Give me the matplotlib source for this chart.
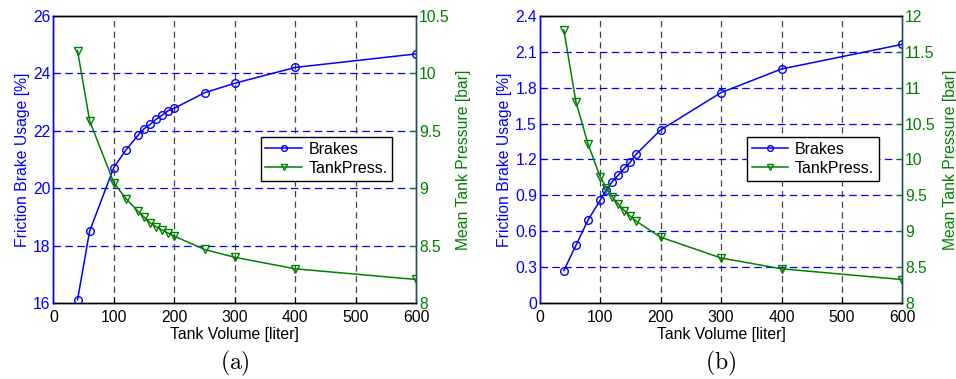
import matplotlib
matplotlib.use('Agg')
from matplotlib import pyplot as plt

plt.rcParams['font.family'] = ['Liberation Sans', 'DejaVu Sans']
plt.rcParams['mathtext.fontset'] = 'cm'

# panel (a)
vol_a = [40, 60, 100, 120, 140, 150, 160, 170, 180, 190, 200, 250, 300, 400, 600]
brakes_a = [16.12, 18.51, 20.72, 21.33, 21.84, 22.07, 22.22, 22.40, 22.54, 22.70, 22.78,
            23.32, 23.65, 24.20, 24.67]
press_a = [10.196, 9.587, 9.048, 8.91, 8.80, 8.75, 8.70, 8.665, 8.636, 8.61, 8.584,
           8.468, 8.40, 8.30, 8.207]

# panel (b)
vol_b = [40, 60, 80, 100, 110, 120, 130, 140, 150, 160, 200, 300, 400, 600]
brakes_b = [0.273, 0.484, 0.695, 0.859, 0.946, 1.015, 1.07, 1.126, 1.18, 1.246, 1.446,
            1.758, 1.955, 2.161]
press_b = [11.80, 10.80, 10.215, 9.76, 9.61, 9.48, 9.38, 9.29, 9.21, 9.14, 8.92,
           8.63, 8.48, 8.33]

x_ticks = [0, 100, 200, 300, 400, 500, 600]
yl_a = [16, 18, 20, 22, 24, 26]
yr_a = [8, 8.5, 9, 9.5, 10, 10.5]
yl_b = [0, 0.3, 0.6, 0.9, 1.2, 1.5, 1.8, 2.1, 2.4]
yr_b = [8, 8.5, 9, 9.5, 10, 10.5, 11, 11.5, 12]

BLUE = '#0000ff'
GREEN = '#008000'
FS = 11.3


def panel(left, vol, brakes, press, yl, yr, ylfmt, caption):
    ax = fig.add_axes([left, 0.1997, 0.3795, 0.759])
    ax2 = ax.twinx()
    ax.set_zorder(1)
    ax2.set_zorder(2)
    ax2.patch.set_visible(False)

    # dummy handle for the legend, brakes are drawn on the left scale
    l1, = ax2.plot([], [], '-o', color=BLUE, mfc='none', ms=5.5, lw=1.1, mew=1.0,
                   label='Brakes')
    ax.plot(vol, brakes, '-o', color=BLUE, mfc='none', ms=5.5, lw=1.1, mew=1.0, zorder=5)
    l2, = ax2.plot(vol, press, '-v', color=GREEN, mfc='none', ms=6, lw=1.1, mew=1.0,
                   label='TankPress.')

    ax.set_xlim(0, 600)
    ax.set_ylim(yl[0], yl[-1])
    ax2.set_ylim(yr[0], yr[-1])
    ax.set_xticks(x_ticks)
    ax.set_yticks(yl)
    ax.set_yticklabels([ylfmt(v) for v in yl])
    ax2.set_yticks(yr)
    ax2.set_yticklabels([('%g' % v) for v in yr])

    for v in x_ticks[1:-1]:
        ax.axvline(v, color='#444444', lw=0.9, dashes=(5, 3.5), zorder=0)
    for v in yl[1:-1]:
        ax.axhline(v, color=BLUE, lw=0.9, dashes=(6, 3.5), zorder=0)

    ax.tick_params(axis='x', direction='in', labelsize=FS, colors='black', length=4, pad=5)
    ax.tick_params(axis='y', direction='in', labelsize=FS, colors=BLUE, length=4, pad=2)
    ax2.tick_params(axis='y', direction='in', labelsize=FS, colors=GREEN, length=4, pad=2)
    ax.spines['left'].set_color(BLUE)
    ax2.spines['left'].set_color(BLUE)
    ax2.spines['right'].set_color('#1f4f58')
    ax.spines['right'].set_color('#1f4f58')
    for a in (ax, ax2):
        a.spines['top'].set_color('black')
        a.spines['bottom'].set_color('black')
        for s in a.spines.values():
            s.set_linewidth(1.0)

    ax.set_xlabel('Tank Volume [liter]', fontsize=FS, labelpad=1)
    ax.set_ylabel('Friction Brake Usage [%]', fontsize=FS, color=BLUE, labelpad=2)
    ax2.set_ylabel('Mean Tank Pressure [bar]', fontsize=FS, color=GREEN, labelpad=5)

    leg = ax2.legend(handles=[l1, l2], loc='upper left', bbox_to_anchor=(0.571, 0.578),
                     borderaxespad=0, fontsize=11.5, fancybox=False, framealpha=1,
                     edgecolor='black', handlelength=2.3, markerscale=0.75,
                     borderpad=0.3, labelspacing=0.25, handletextpad=0.4)
    leg.get_frame().set_linewidth(1.0)

    ax.text(0.5, -0.21, r'$\mathrm{(%s)}$' % caption, transform=ax.transAxes,
            ha='center', va='center', fontsize=17)


fig = plt.figure(figsize=(9.56, 3.79), dpi=100)
panel(0.0558, vol_a, brakes_a, press_a, yl_a, yr_a, lambda v: '%d' % v, 'a')
panel(0.5645, vol_b, brakes_b, press_b, yl_b, yr_b, lambda v: '%g' % v, 'b')

fig.savefig('out.png', dpi=100)
